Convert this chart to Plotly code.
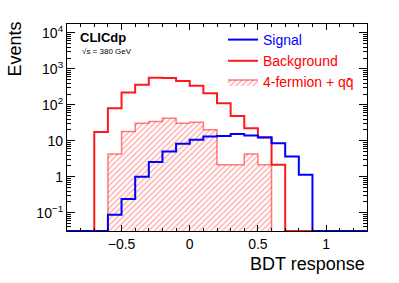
import numpy as np
import plotly.graph_objects as go

# ---- data (bins of 0.1 from -0.9 to 1.3) ----
bin_low = -0.9
bin_width = 0.1
signal = [0, 0, 0, 0.088, 0.24, 1.0, 2.57, 5.0, 8.3, 10.7, 13.2, 13.7,
          15.4, 14.1, 12.3, 8.6, 3.66, 1.14, 0, 0, 0, 0]
background = [0, 0, 17.5, 80, 219, 360, 570, 560, 464, 338, 211, 111,
              49, 22.5, 12.5, 2.15, 0, 0, 0, 0, 0, 0]
fourferm = [0, 0, 0, 4.3, 18.2, 31, 34.5, 42.5, 31, 33, 20.2, 2.15,
            2.15, 4.3, 2.15, 0, 0, 0, 0, 0, 0, 0]

xtick_vals = [-0.5, 0, 0.5, 1]
xtick_text = ["\u22120.5", "0", "0.5", "1"]
ytick_vals = [0.1, 1, 10, 100, 1000, 10000]
ytick_text = ["10<sup>\u22121</sup>", "1", "10", "10<sup>2</sup>", "10<sup>3</sup>", "10<sup>4</sup>"]

x_range = [-0.9, 1.3]
ylog_range = [-1.51, 4.25]

FONT = "Liberation Sans, Arial, Helvetica, sans-serif"
BLUE = "#0000ff"
RED = "#ff1a1a"
LRED = "rgba(255,0,0,0.5)"

n = len(signal)
edges = bin_low + bin_width * np.arange(n + 1)
floor = 10 ** ylog_range[0]


def step_line(vals):
    v = [max(a, floor) for a in vals]
    return list(edges), v + [v[-1]]


def step_poly(vals):
    nz = [i for i, a in enumerate(vals) if a > 0]
    i0, i1 = nz[0], nz[-1]
    xs, ys = [edges[i0]], [1e-4]
    for i in range(i0, i1 + 1):
        xs += [edges[i], edges[i + 1]]
        ys += [vals[i], vals[i]]
    xs.append(edges[i1 + 1])
    ys.append(1e-4)
    return xs, ys


fig = go.Figure()

px_, py_ = step_poly(fourferm)
fig.add_trace(go.Scatter(
    x=px_, y=py_, mode="lines", fill="toself",
    fillcolor="rgba(0,0,0,0)",
    fillpattern=dict(shape="/", fgcolor="rgba(255,0,0,0.7)", bgcolor="white",
                     size=4, solidity=0.33),
    line=dict(color=LRED, width=1.5),
    name="<span style='color:#ff0000'>4-fermion + q" + "q\u0304" + "</span>",
    legendrank=3,
))

bx, by = step_line(background)
fig.add_trace(go.Scatter(
    x=bx, y=by, mode="lines", line_shape="hv",
    line=dict(color=RED, width=2),
    name="<span style='color:#ff0000'>Background</span>", legendrank=2,
))

sx, sy = step_line(signal)
fig.add_trace(go.Scatter(
    x=sx, y=sy, mode="lines", line_shape="hv",
    line=dict(color=BLUE, width=2),
    name="<span style='color:#0000ff'>Signal</span>", legendrank=1,
))

axis_common = dict(showline=True, linecolor="black", linewidth=1.2, mirror="ticks",
                   ticks="inside", tickcolor="black", showgrid=False, zeroline=False,
                   tickfont=dict(family=FONT, size=14, color="black"))

fig.update_xaxes(range=x_range, tickvals=xtick_vals, ticktext=xtick_text,
                 ticklen=6, tickwidth=1,
                 minor=dict(ticks="inside", dtick=0.1, tick0=0, ticklen=3,
                            tickcolor="black", showgrid=False),
                 **axis_common)

minor_y = [m * 10 ** k for k in range(-2, 5) for m in range(2, 10)]
fig.update_yaxes(type="log", range=ylog_range, tickvals=ytick_vals, ticktext=ytick_text,
                 ticklen=8, tickwidth=1,
                 minor=dict(ticks="inside", tickmode="array", tickvals=minor_y, ticklen=4,
                            tickcolor="black", showgrid=False),
                 **axis_common)

fig.update_layout(
    width=399, height=283,
    margin=dict(l=67, r=32, t=24, b=52),
    plot_bgcolor="white", paper_bgcolor="white",
    font=dict(family=FONT, size=14, color="black"),
    showlegend=True,
    legend=dict(x=0.52, y=1.0, xanchor="left", yanchor="top",
                bgcolor="rgba(0,0,0,0)", font=dict(family=FONT, size=14),
                traceorder="normal", tracegroupgap=0),
    annotations=[
        dict(text="BDT response", xref="paper", yref="paper", x=1.0, y=-0.16,
             xanchor="right", yanchor="middle", showarrow=False,
             font=dict(family=FONT, size=18, color="black")),
        dict(text="Events", xref="paper", yref="paper", x=-0.173, y=0.877,
             xanchor="center", yanchor="middle", textangle=-90, showarrow=False,
             font=dict(family=FONT, size=18, color="black")),
        dict(text="<b>CLICdp</b>", xref="paper", yref="paper", x=0.035, y=0.937,
             xanchor="left", yanchor="middle", showarrow=False,
             font=dict(family=FONT, size=13, color="black")),
        dict(text="\u221As = 380 GeV", xref="paper", yref="paper", x=0.042, y=0.867,
             xanchor="left", yanchor="middle", showarrow=False,
             font=dict(family=FONT, size=8, color="black")),
    ],
)

fig.write_html("out.html", config={"displayModeBar": False},
               post_script="document.body.style.margin='0px';")
